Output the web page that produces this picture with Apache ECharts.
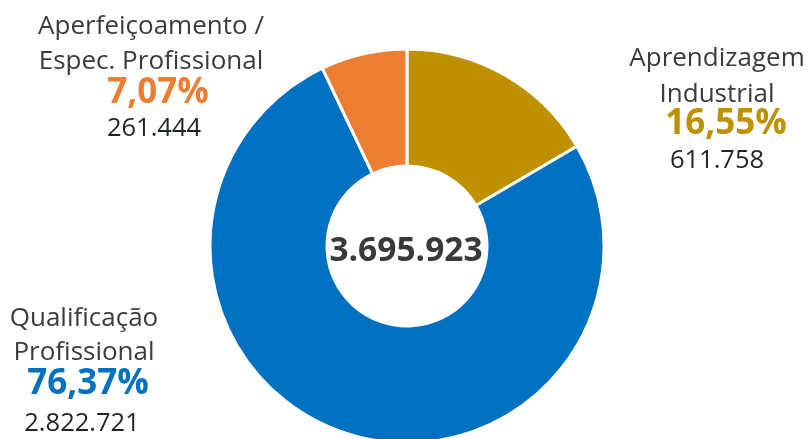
<!DOCTYPE html>
<html><head><meta charset="utf-8">
<script src="https://cdn.jsdelivr.net/npm/echarts@6/dist/echarts.min.js"></script>
<style>html,body{margin:0;padding:0;background:#fff}#c{width:809px;height:439px}</style>
</head><body><div id="c"></div>
<script>
const categories = [["Aprendizagem", "Industrial"], ["Qualificação", "Profissional"], ["Aperfeiçoamento /", "Espec. Profissional"]];
const values = [611758, 2822721, 261444];
const colors = ['#BF9000', '#0070C0', '#ED7D31'];

const total = values.reduce((a, b) => a + b, 0);
const fmtNum = v => String(v).replace(/\B(?=(\d{3})+(?!\d))/g, '.');
const fmtPct = v => (v / total * 100).toFixed(2).replace('.', ',') + '%';

// label layout: x centers and baselines for [line1, line2, percent, number]
const layout = [
  {xs: [717, 717, 726, 717], ys: [64, 100, 132, 167]},
  {xs: [84, 84, 88, 82], ys: [324, 358, 392, 430]},
  {xs: [151, 151, 158, 154], ys: [32, 67, 101, 135]}
];
const FONT = '"Open Sans", sans-serif';
const LBL = 26, PCT = 35, NUM = 25.5;
const graphics = [];
function txt(s, x, base, size, bold, fill) {
  graphics.push({type: 'text', x: x, y: base + size * 0.28,
    style: {text: s, font: (bold ? 'bold ' : '') + size + 'px ' + FONT, fill: fill, textAlign: 'center', textVerticalAlign: 'bottom'}});
}
values.forEach((v, i) => {
  const L = layout[i];
  txt(categories[i][0], L.xs[0], L.ys[0], LBL, false, '#3b3b3b');
  txt(categories[i][1], L.xs[1], L.ys[1], LBL, false, '#3b3b3b');
  txt(fmtPct(v), L.xs[2], L.ys[2], PCT, true, colors[i]);
  txt(fmtNum(v), L.xs[3], L.ys[3], NUM, false, '#1f261f');
});
txt(fmtNum(total), 406, 259, 33.5, true, '#3a3a3a');

const chart = echarts.init(document.getElementById('c'));
chart.setOption({
  animation: false,
  series: [{
    type: 'pie',
    center: [407, 246],
    radius: [80, 197],
    startAngle: 90,
    clockwise: true,
    label: {show: false},
    labelLine: {show: false},
    emphasis: {disabled: true},
    itemStyle: {borderColor: '#fff', borderWidth: 3},
    data: values.map((v, i) => ({value: v, name: categories[i].join(' '), itemStyle: {color: colors[i]}}))
  }],
  graphic: graphics
});
</script></body></html>
